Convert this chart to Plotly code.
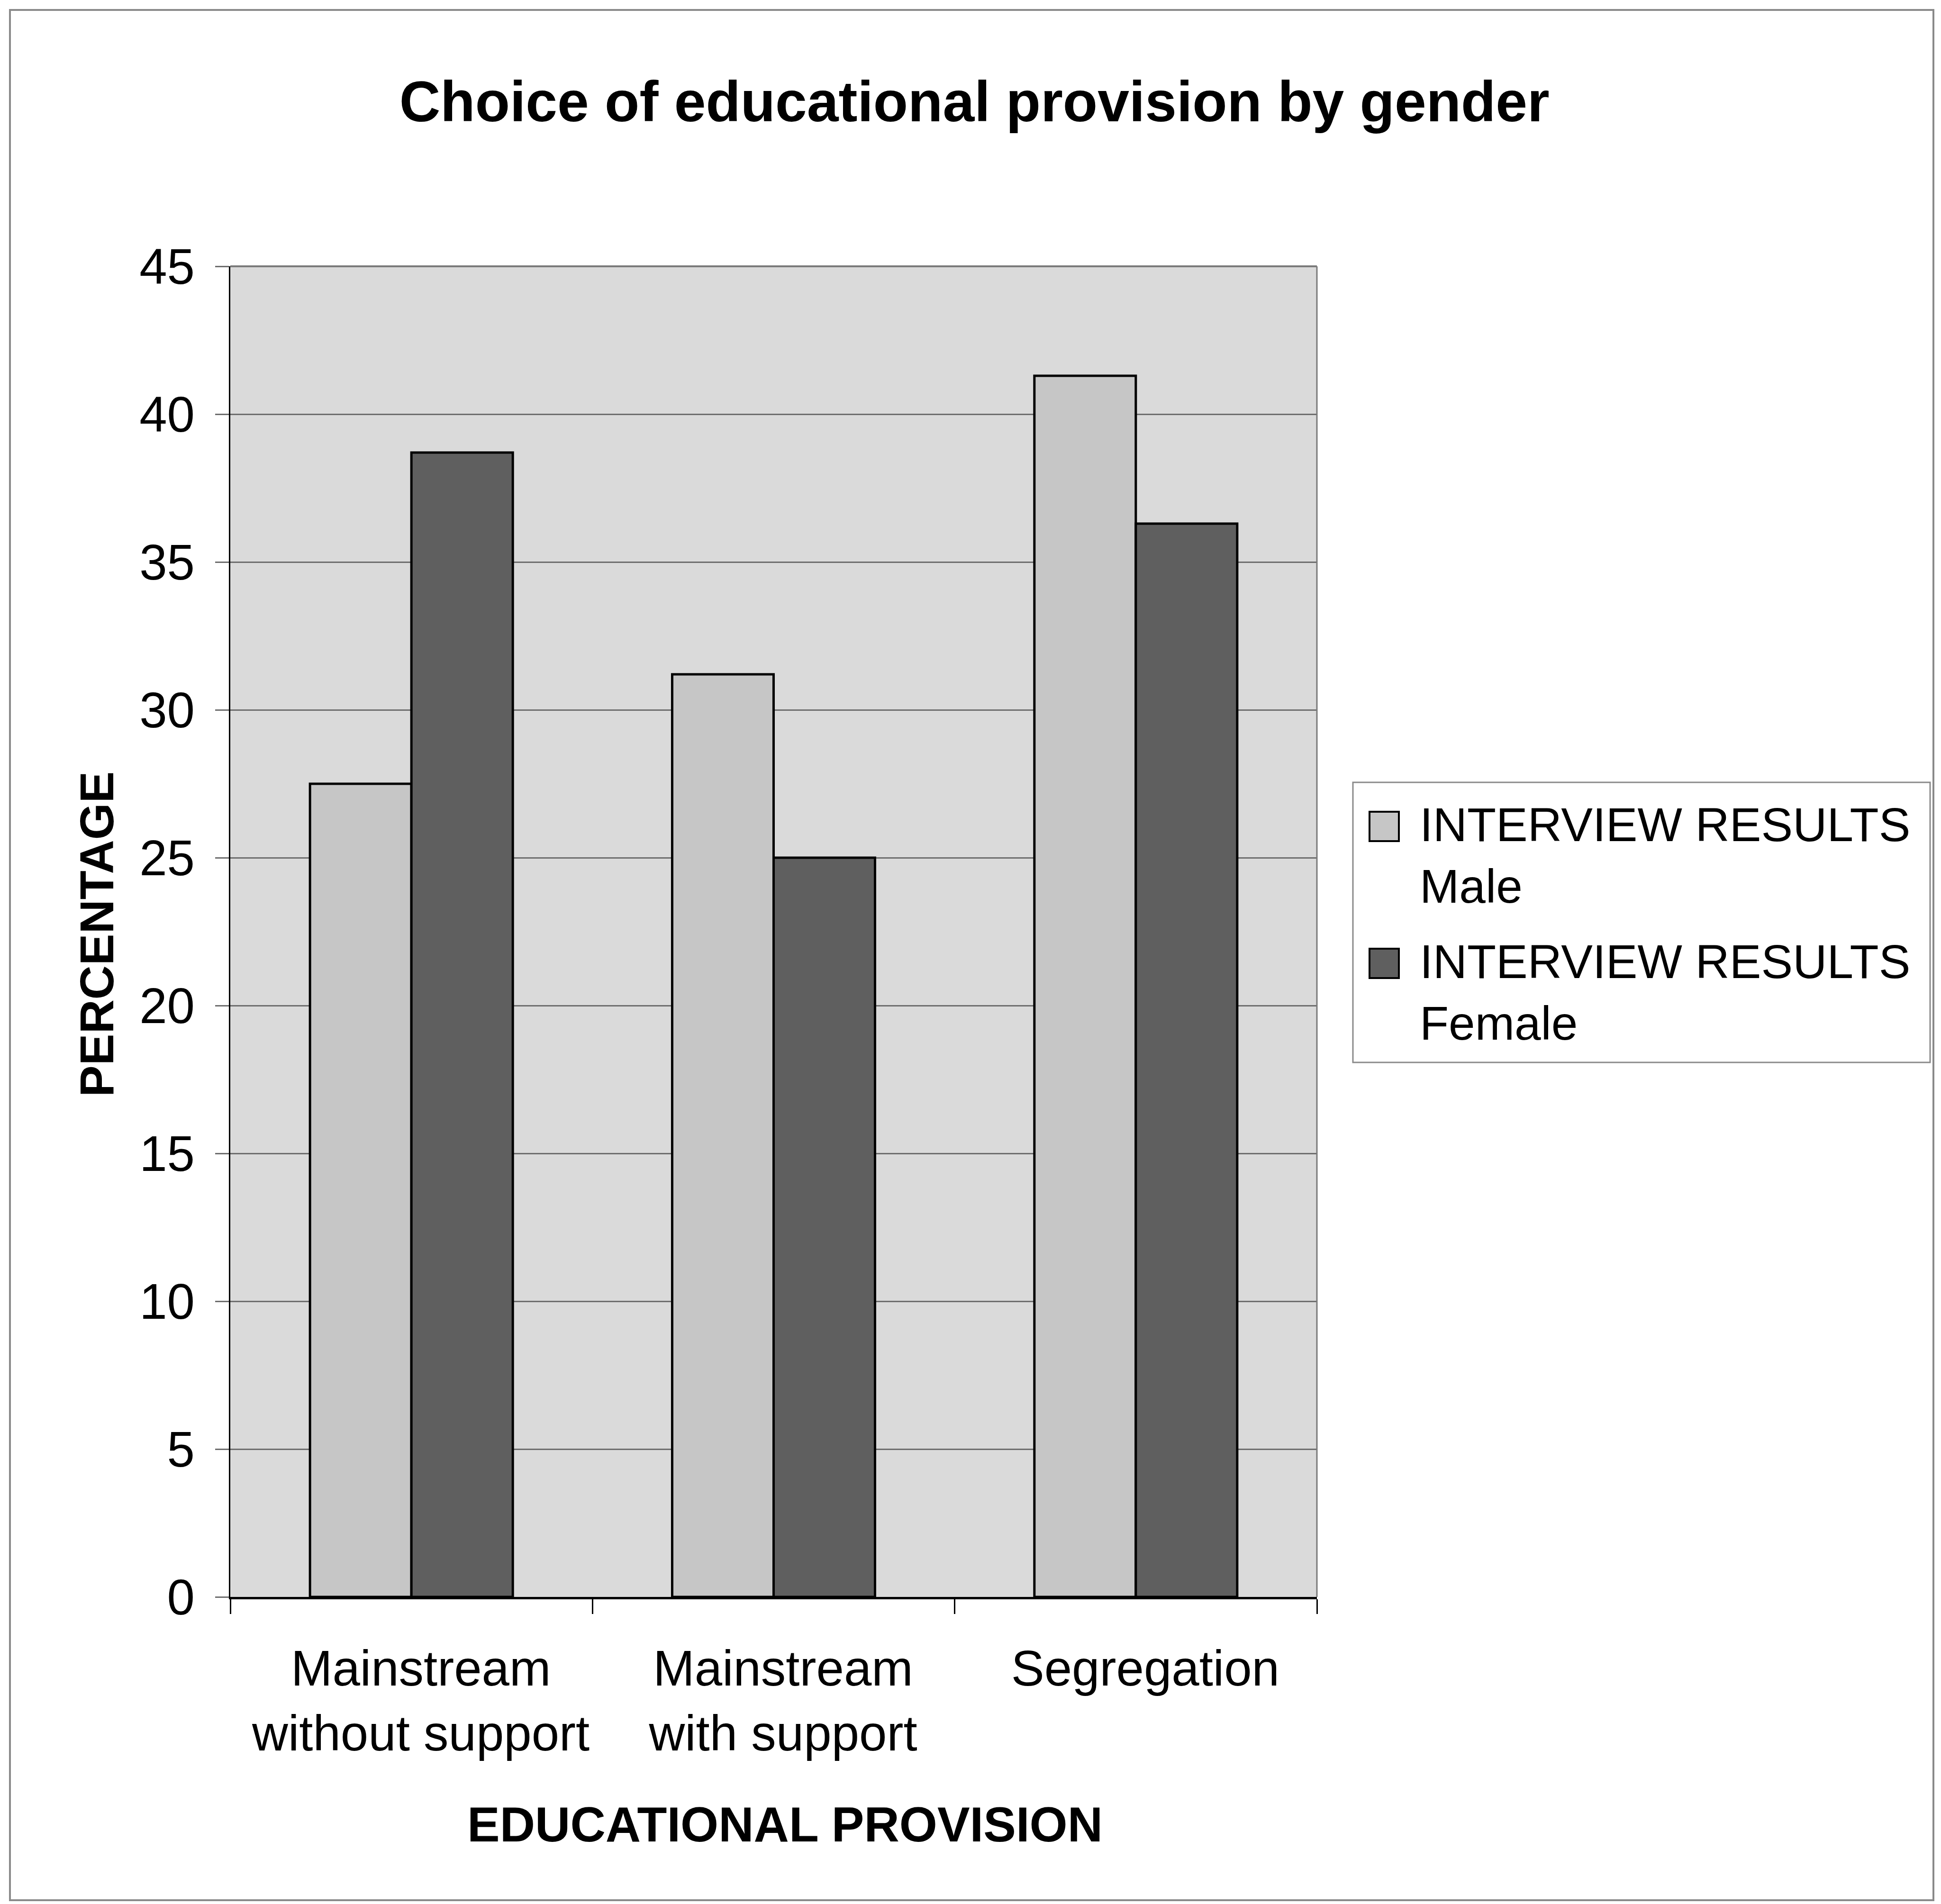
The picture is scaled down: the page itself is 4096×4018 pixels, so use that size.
import plotly.graph_objects as go

# --- data -------------------------------------------------------------
categories = ["Mainstream<br>without support", "Mainstream<br>with support", "Segregation"]
series_names = ["INTERVIEW RESULTS<br>Male", "INTERVIEW RESULTS<br>Female"]
male_values = [27.5, 31.2, 41.3]
female_values = [38.7, 25.0, 36.3]
y_ticks = [0, 5, 10, 15, 20, 25, 30, 35, 40, 45]

# --- styling ----------------------------------------------------------
FONT = "Liberation Sans, Arial, sans-serif"
MALE_COLOR = "#c6c6c6"
FEMALE_COLOR = "#5f5f5f"
PLOT_BG = "#dadada"
GRID = "#6e6e6e"

W, H = 4096, 4018
L, T, R, B = 486, 562, 2779, 3370  # plot area in pixels


def px(x):
    return (x - L) / (R - L)


def py(y):
    return (B - y) / (B - T)


fig = go.Figure()
for name, vals, col in [(series_names[0], male_values, MALE_COLOR),
                        (series_names[1], female_values, FEMALE_COLOR)]:
    fig.add_trace(go.Bar(
        x=categories, y=vals, name=name, showlegend=False,
        marker=dict(color=col, line=dict(color="#000000", width=5)),
    ))

fig.update_layout(
    width=W, height=H,
    margin=dict(l=L, r=W - R, t=T, b=H - B, pad=0),
    paper_bgcolor="#ffffff",
    plot_bgcolor=PLOT_BG,
    barmode="group",
    bargap=0.44,
    bargroupgap=0,
    font=dict(family=FONT, color="#000000", size=100),
    title=dict(
        text="Choice of educational provision by gender",
        font=dict(family=FONT, size=120, weight=700, color="#000000"),
        x=0.502, xanchor="center",
        y=1 - 214 / H, yanchor="middle",
    ),
    xaxis=dict(
        type="category",
        showline=True, linecolor="#000000", linewidth=5,
        ticks="outside", tickson="boundaries", ticklen=31, tickwidth=3,
        tickcolor="#000000",
        tickfont=dict(family=FONT, size=105),
        ticklabelstandoff=56,
        ticklabelshift=20,
        showgrid=False,
    ),
    yaxis=dict(
        range=[0, 45], tickvals=y_ticks,
        showline=True, linecolor="#000000", linewidth=3,
        ticks="outside", ticklen=29, tickwidth=3, tickcolor=GRID,
        tickfont=dict(family=FONT, size=105),
        ticklabelstandoff=22,
        showgrid=True, gridcolor=GRID, gridwidth=3,
        zeroline=False,
    ),
)

shapes = []
# top and right edges of the plot area
shapes.append(dict(type="line", xref="paper", yref="paper", x0=0, x1=1, y0=1, y1=1,
                   line=dict(color="#7a7a7a", width=4)))
shapes.append(dict(type="line", xref="paper", yref="paper", x0=1, x1=1, y0=0, y1=1,
                   line=dict(color="#7a7a7a", width=3)))
# outer chart frame
shapes.append(dict(type="rect", xref="paper", yref="paper",
                   x0=px(21), x1=px(4080), y0=py(4010), y1=py(21),
                   line=dict(color="#8a8a8a", width=4), layer="below"))
# legend box and swatches
shapes.append(dict(type="rect", xref="paper", yref="paper",
                   x0=px(2855), x1=px(4073), y0=py(2242), y1=py(1651),
                   line=dict(color="#8a8a8a", width=3), fillcolor="#ffffff"))
swatch_tops = [1713, 2002]
for top, col in zip(swatch_tops, [MALE_COLOR, FEMALE_COLOR]):
    shapes.append(dict(type="rect", xref="paper", yref="paper",
                       x0=px(2890), x1=px(2952), y0=py(top + 62), y1=py(top),
                       line=dict(color="#000000", width=4), fillcolor=col))
fig.update_layout(shapes=shapes)

annotations = []
for top, name in zip([1682, 1971], series_names):
    annotations.append(dict(
        text=name, xref="paper", yref="paper", x=px(2994), y=py(top),
        xanchor="left", yanchor="top", align="left", showarrow=False,
        font=dict(family=FONT, size=100, color="#000000"),
    ))
annotations.append(dict(
    text="EDUCATIONAL PROVISION", xref="paper", yref="paper",
    x=px(1656), y=py(3850), xanchor="center", yanchor="middle", showarrow=False,
    font=dict(family=FONT, size=103, weight=700, color="#000000"),
))
annotations.append(dict(
    text="PERCENTAGE", xref="paper", yref="paper", textangle=-90,
    x=px(204), y=py(1972), xanchor="center", yanchor="middle", showarrow=False,
    font=dict(family=FONT, size=100, weight=700, color="#000000"),
))
fig.update_layout(annotations=annotations)

fig.write_html("out.html")
